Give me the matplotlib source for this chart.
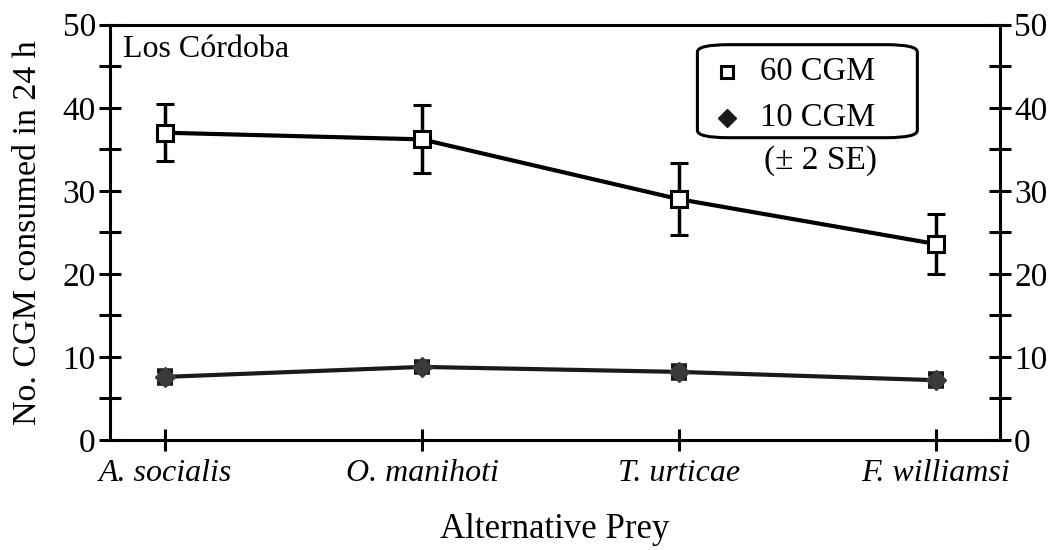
import matplotlib
matplotlib.use("Agg")
import matplotlib.pyplot as plt
from matplotlib.patches import FancyBboxPatch
import numpy as np

categories = ["A. socialis", "O. manihoti", "T. urticae", "F. williamsi"]
cgm60 = [37.0, 36.2, 29.0, 23.6]
cgm60_err = [3.4, 4.1, 4.3, 3.6]
cgm10 = [7.6, 8.8, 8.2, 7.2]
cgm10_err = [0.7, 0.6, 0.7, 0.7]
yticks = [0, 10, 20, 30, 40, 50]

plt.rcParams['font.family'] = ['Liberation Serif', 'DejaVu Serif']

fig = plt.figure(figsize=(10.55, 5.5), dpi=100)
ax = fig.add_axes([0.104, 0.2, 0.844, 0.755])
x = np.arange(len(categories))

ax.errorbar(x, cgm60, yerr=cgm60_err, color='black', lw=3, marker='s',
            ms=11, mfc='white', mec='black', mew=2.2, ecolor='black',
            elinewidth=2.5, capsize=6.5, capthick=4, zorder=3)
ax.errorbar(x, cgm10, yerr=cgm10_err, color='#1a1a1a', lw=3, marker='D',
            ms=10, mfc='#3a3a3a', mec='#3a3a3a', ecolor='#1a1a1a',
            elinewidth=2.5, capsize=5.5, capthick=4, zorder=3)

ax.set_xlim(-0.215, 3.25)
ax.set_ylim(0, 50)
ax.set_xticks(x)
ax.set_xticklabels(categories, fontstyle='italic', fontsize=23)
ax.set_yticks(yticks)
ax.set_yticks([5, 15, 25, 35, 45], minor=True)
ax.tick_params(axis='y', which='both', direction='inout', length=16, width=2.2,
               labelsize=24, left=True, right=True, labelleft=True,
               labelright=True, pad=2)
ax.tick_params(axis='x', which='major', direction='inout', length=16, width=2.2,
               labelsize=23, pad=6, top=False)
for s in ax.spines.values():
    s.set_linewidth(2.2)

ax.set_ylabel("No. CGM consumed in 24 h", fontsize=24.5, labelpad=14)
ax.set_xlabel("Alternative Prey", fontsize=25, labelpad=18)

ax.text(0.0146, 0.94, "Los Córdoba", transform=ax.transAxes, fontsize=23,
        va='center', ha='left')

# Legend box
box = FancyBboxPatch((0.66, 0.728), 0.247, 0.224, transform=ax.transAxes,
                     boxstyle="round,pad=0,rounding_size=0.035",
                     fc='white', ec='black', lw=2.2, zorder=4,
                     mutation_aspect=0.5)
ax.add_patch(box)
ax.plot([0.693], [0.887], transform=ax.transAxes, marker='s', ms=9,
        mfc='white', mec='black', mew=2.2, zorder=5, clip_on=False)
ax.plot([0.693], [0.776], transform=ax.transAxes, marker='D', ms=9,
        mfc='#1a1a1a', mec='#1a1a1a', zorder=5, clip_on=False)
ax.text(0.730, 0.887, "60 CGM", transform=ax.transAxes, fontsize=23.5,
        va='center', ha='left', zorder=5)
ax.text(0.730, 0.776, "10 CGM", transform=ax.transAxes, fontsize=23.5,
        va='center', ha='left', zorder=5)
ax.text(0.798, 0.672, "(± 2 SE)", transform=ax.transAxes, fontsize=24,
        va='center', ha='center', zorder=5)

fig.savefig("out.png", dpi=100)
